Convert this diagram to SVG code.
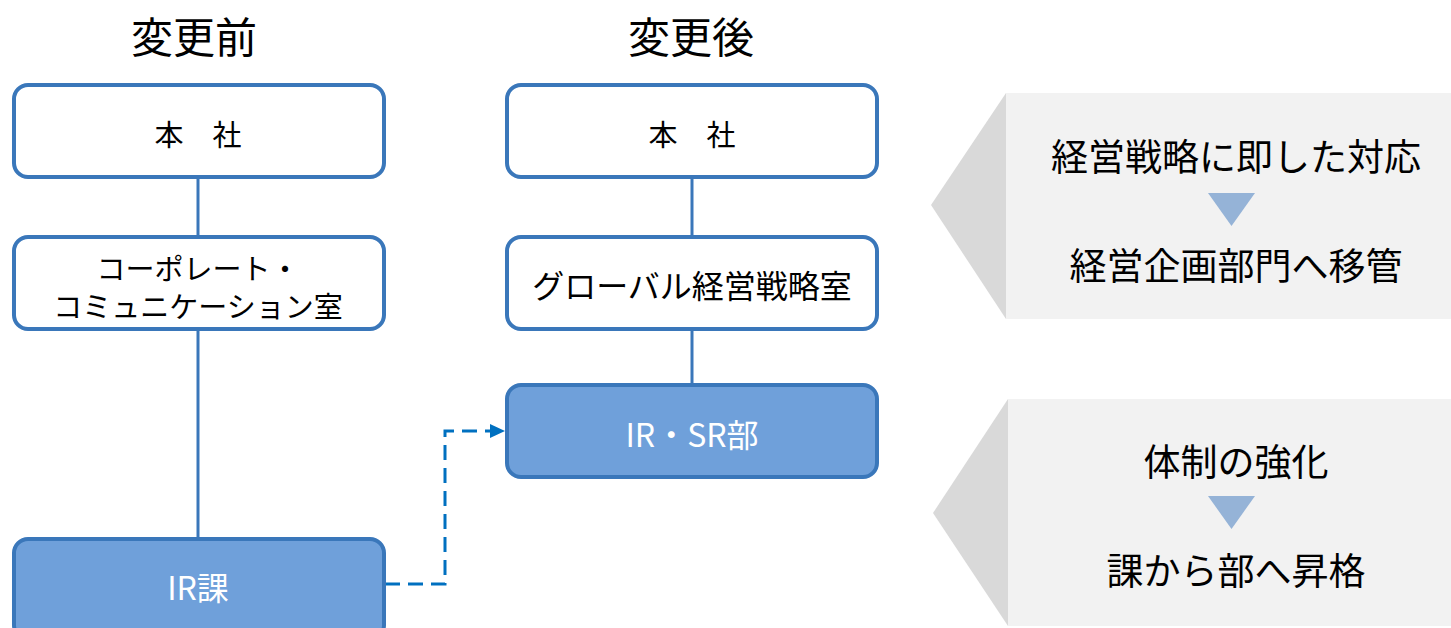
<svg xmlns="http://www.w3.org/2000/svg" width="1451" height="628" viewBox="0 0 1451 628">
<defs>
<style>
text{font-family:"Noto Sans CJK JP","Noto Sans",sans-serif;text-anchor:middle;dominant-baseline:central;}
.box{fill:#FFFFFF;stroke:#3A77BA;stroke-width:4;}
.boxf{fill:#6FA0DA;stroke:#3A77BA;stroke-width:4;}
.t{font-size:29px;fill:#000;}
.tw{font-size:32px;fill:#FFFFFF;}
.hd{font-size:42px;fill:#000;}
.pt{font-size:37px;fill:#000;}
.line{stroke:#3A77BA;stroke-width:3;fill:none;}
.dash{stroke:#0070C0;stroke-width:3;fill:none;stroke-dasharray:15 8;}
.tri{fill:#95B3D7;}
</style>
</defs>
<rect width="1451" height="628" fill="#FFFFFF"/>
<g id="headers">
<text class="hd" x="194" y="34">変更前</text>
<text class="hd" x="691" y="34">変更後</text>
</g>
<g id="connectors">
<line class="line" x1="198" y1="178" x2="198" y2="237"/>
<line class="line" x1="198" y1="330" x2="198" y2="538"/>
<line class="line" x1="692" y1="178" x2="692" y2="236"/>
<line class="line" x1="692" y1="329" x2="692" y2="384"/>
<path class="dash" d="M385,584 H445 V431 H493"/>
<path d="M490,424 L505,431 L490,438 z" fill="#0070C0"/>
</g>
<g id="before-honsha">
<rect class="box" x="14" y="85" width="370" height="92" rx="14"/>
<text class="t" x="198" y="133">本　社</text>
</g>
<g id="before-corp">
<rect class="box" x="14" y="237" width="370" height="92" rx="14"/>
<text class="t" x="198" y="267">コーポレート・</text>
<text class="t" x="198" y="305">コミュニケーション室</text>
</g>
<g id="before-ir">
<rect class="boxf" x="14" y="539" width="370" height="100" rx="14"/>
<text class="tw" x="198" y="586">IR課</text>
</g>
<g id="after-honsha">
<rect class="box" x="507" y="85" width="370" height="92" rx="14"/>
<text class="t" x="692" y="133">本　社</text>
</g>
<g id="after-global">
<rect class="box" x="507" y="237" width="370" height="92" rx="14"/>
<text class="t" x="692" y="284" style="font-size:32px">グローバル経営戦略室</text>
</g>
<g id="after-irsr">
<rect class="boxf" x="507" y="385" width="370" height="92" rx="14"/>
<text class="tw" x="692" y="433">IR・SR部</text>
</g>
<g id="panel1">
<polygon points="931,205 1006,93 1006,319" fill="#D9D9D9"/>
<rect x="1006" y="93" width="445" height="226" fill="#F2F2F2"/>
<text class="pt" x="1236" y="155">経営戦略に即した対応</text>
<polygon class="tri" points="1208,193 1255,193 1231.5,226"/>
<text class="pt" x="1236" y="264">経営企画部門へ移管</text>
</g>
<g id="panel2">
<polygon points="933,513 1008,399 1008,626" fill="#D9D9D9"/>
<rect x="1008" y="399" width="443" height="227" fill="#F2F2F2"/>
<text class="pt" x="1236" y="460">体制の強化</text>
<polygon class="tri" points="1208,496 1255,496 1231.5,529"/>
<text class="pt" x="1236" y="569">課から部へ昇格</text>
</g>
</svg>
